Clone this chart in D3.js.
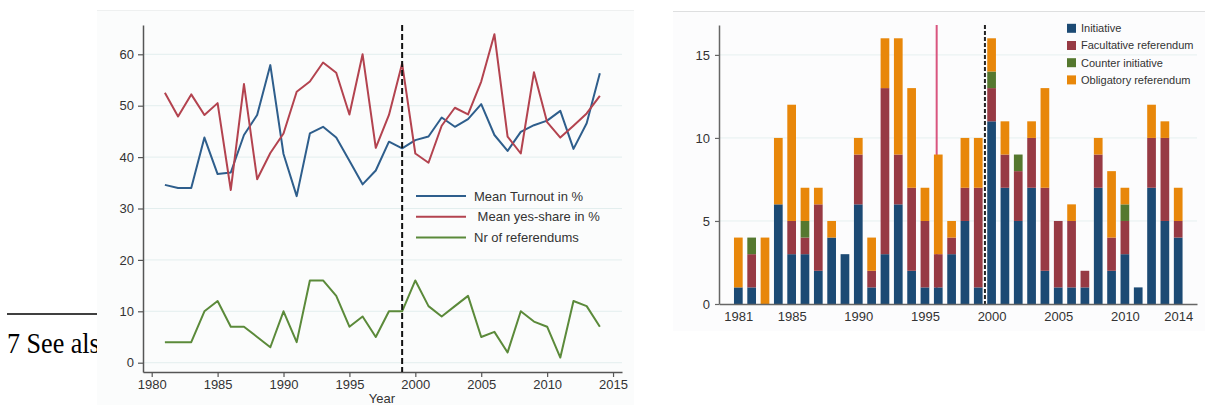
<!DOCTYPE html>
<html><head><meta charset="utf-8">
<script src="https://cdn.jsdelivr.net/npm/d3@7"></script>
<style>
html,body{margin:0;padding:0;background:#fff;overflow:hidden}
svg{display:block}
text{font-family:"Liberation Sans",Arial,sans-serif}
</style></head>
<body>
<svg id="c" width="1205" height="405"></svg>
<script>
// ---------- data ----------
const years = d3.range(1981, 2015);
const turnout = [34.6,34.0,34.0,43.8,36.7,37.0,44.3,48.2,57.9,40.6,32.4,44.6,45.9,43.8,39.3,34.7,37.4,43.0,41.7,43.3,44.0,47.7,45.9,47.4,50.3,44.3,41.2,44.9,46.2,47.1,49.0,41.6,46.6,56.3];
const yesShare = [52.5,47.9,52.2,48.2,50.5,33.6,54.2,35.7,40.8,44.6,52.7,54.7,58.4,56.4,48.3,60.0,41.8,48.2,58.2,40.7,38.9,46.1,49.6,48.3,54.7,63.9,44.0,40.7,56.5,46.8,43.8,46.1,48.5,51.9];
const nrReferendums = [4,4,4,10,12,7,7,5,3,10,4,16,16,13,7,9,5,10,10,16,11,9,11,13,5,6,2,10,8,7,1,12,11,7];
const initiative   = [1,1,0,6,3,3,2,4,3,6,1,3,6,2,1,1,3,5,1,11,7,5,7,2,1,1,1,7,2,3,1,7,5,4];
const facultative  = [0,2,0,0,2,1,4,0,0,3,1,10,3,5,4,2,1,2,6,2,2,3,3,5,4,4,1,2,2,2,0,3,5,1];
const counterInit  = [0,1,0,0,0,1,0,0,0,0,0,0,0,0,0,0,0,0,0,1,0,1,0,0,0,0,0,0,0,1,0,0,0,0];
const obligatory   = [3,0,4,4,7,2,1,1,0,1,2,3,7,6,2,6,1,3,3,2,2,0,1,6,0,1,0,1,4,1,0,2,1,2];
const leftXTicks = [1980,1985,1990,1995,2000,2005,2010,2015];
const leftYTicks = [0,10,20,30,40,50,60];
const rightXTicks = [1981,1985,1990,1995,2000,2005,2010,2014];
const rightYTicks = [0,5,10,15];
const lineLabels = ["Mean Turnout in %"," Mean yes-share in %","Nr of referendums"];
const barLabels = ["Initiative","Facultative referendum","Counter initiative","Obligatory referendum"];
const footnoteText = "7 See also";

const lineColors = ["#2e5e8c","#b3434f","#5b8a3a"];
const barColors = ["#1c4a74","#973a44","#55782f","#e8870a"];
const txt = "#333";

const svg = d3.select("#c");

// ---------- footnote (behind left panel) ----------
svg.append("line").attr("x1",7).attr("x2",110).attr("y1",314).attr("y2",314)
  .attr("stroke","#000").attr("stroke-width",1.4);
svg.append("text").attr("transform","translate(7,353) scale(0.87,1)")
  .style("font-family","'Liberation Serif','Times New Roman',serif")
  .attr("font-size",30).attr("fill","#000").text(footnoteText);

// ---------- panels ----------
svg.append("rect").attr("x",97).attr("y",10).attr("width",537).attr("height",400).attr("fill","#fbfcfc");
svg.append("line").attr("x1",97).attr("x2",634).attr("y1",10.5).attr("y2",10.5).attr("stroke","#eef0f0");
svg.append("rect").attr("x",673).attr("y",11).attr("width",532).attr("height",320).attr("fill","#fcfcfd");
svg.append("line").attr("x1",673).attr("x2",1205).attr("y1",11.5).attr("y2",11.5).attr("stroke","#dedfe0");

// ---------- left chart ----------
const xL = d3.scaleLinear().domain([1979.34, 2015.68]).range([143, 622]);
const yL = d3.scaleLinear().domain([-1.81, 65.7]).range([372, 25]);
const gL = svg.append("g");

gL.selectAll(".gl").data(leftYTicks).join("line")
  .attr("x1",143).attr("x2",622).attr("y1",d=>yL(d)).attr("y2",d=>yL(d))
  .attr("stroke","#e3eeee").attr("stroke-width",1);

const axLY = gL.append("g").attr("transform","translate(143,0)")
  .call(d3.axisLeft(yL).tickValues(leftYTicks).tickSize(5).tickPadding(4).tickSizeOuter(0));
const axLX = gL.append("g").attr("transform","translate(0,372)")
  .call(d3.axisBottom(xL).tickValues(leftXTicks).tickFormat(d3.format("d")).tickSize(5).tickPadding(3).tickSizeOuter(0));
[axLY,axLX].forEach(a=>{
  a.select(".domain").attr("stroke","#555").attr("stroke-width",1.5);
  a.selectAll(".tick line").attr("stroke","#555").attr("stroke-width",1.2);
  a.selectAll("text").attr("font-size",13).attr("fill",txt).style("font-family","'Liberation Sans',Arial,sans-serif");
});
gL.append("text").attr("x",382).attr("y",403).attr("text-anchor","middle")
  .attr("font-size",13).attr("fill",txt).text("Year");

const seriesL = [turnout, yesShare, nrReferendums];
const lineGen = d3.line().x((d,i)=>xL(years[i])).y(d=>yL(d));
seriesL.forEach((s,k)=>{
  gL.append("path").datum(s).attr("d",lineGen).attr("fill","none")
    .attr("stroke",lineColors[k]).attr("stroke-width",2).attr("stroke-linejoin","round");
});

gL.append("line").attr("x1",xL(1999)).attr("x2",xL(1999)).attr("y1",25).attr("y2",372)
  .attr("stroke","#111").attr("stroke-width",2).attr("stroke-dasharray","6,3");

const legL = gL.append("g");
lineLabels.forEach((t,k)=>{
  const y = 196 + k*20.7;
  legL.append("line").attr("x1",416).attr("x2",466).attr("y1",y).attr("y2",y)
    .attr("stroke",lineColors[k]).attr("stroke-width",2);
  legL.append("text").attr("x",474).attr("y",y).attr("dy","0.35em")
    .attr("font-size",13).attr("fill",txt).style("white-space","pre").text(t);
});

// ---------- right chart ----------
const xR = d3.scaleLinear().domain([1979.55, 2015.41]).range([719, 1197]);
const yR = d3.scaleLinear().domain([0, 16.8]).range([304, 25]);
const gR = svg.append("g");

gR.selectAll(".gl").data(rightYTicks.filter(d=>d>0)).join("line")
  .attr("x1",719).attr("x2",1197).attr("y1",d=>yR(d)).attr("y2",d=>yR(d))
  .attr("stroke","#e6f0f0").attr("stroke-width",1);

// pink reference line (behind bars)
gR.append("line").attr("x1",xR(1995.88)).attr("x2",xR(1995.88)).attr("y1",25).attr("y2",304)
  .attr("stroke","#d9557f").attr("stroke-width",2);

const table = years.map((y,i)=>({year:y, a:initiative[i], b:facultative[i], c:counterInit[i], d:obligatory[i]}));
const stack = d3.stack().keys(["a","b","c","d"])(table);
const bw = 8.7;
stack.forEach((layer,k)=>{
  gR.append("g").selectAll("rect").data(layer.filter(d=>d[1]>d[0])).join("rect")
    .attr("x",d=>xR(d.data.year)-bw/2).attr("width",bw)
    .attr("y",d=>yR(d[1])).attr("height",d=>yR(d[0])-yR(d[1]))
    .attr("fill",barColors[k]);
});

gR.append("line").attr("x1",xR(1999.5)).attr("x2",xR(1999.5)).attr("y1",25).attr("y2",304)
  .attr("stroke","#222").attr("stroke-width",2).attr("stroke-dasharray","4,2");

const axRY = gR.append("g").attr("transform","translate(719,0)")
  .call(d3.axisLeft(yR).tickValues(rightYTicks).tickSize(4).tickPadding(5).tickSizeOuter(0));
const axRX = gR.append("g").attr("transform","translate(0,304)")
  .call(d3.axisBottom(xR).tickValues(rightXTicks).tickFormat(d3.format("d")).tickSize(0).tickPadding(8).tickSizeOuter(0));
[axRY,axRX].forEach(a=>{
  a.select(".domain").attr("stroke","#666").attr("stroke-width",1.5);
  a.selectAll(".tick line").attr("stroke","#666").attr("stroke-width",1.2);
  a.selectAll("text").attr("font-size",13).attr("fill",txt).style("font-family","'Liberation Sans',Arial,sans-serif");
});

const legR = gR.append("g");
barLabels.forEach((t,k)=>{
  const y = 28.3 + k*17.2;
  legR.append("rect").attr("x",1067).attr("y",y-4.5).attr("width",9).attr("height",9).attr("fill",barColors[k]);
  legR.append("text").attr("x",1081).attr("y",y).attr("dy","0.35em")
    .attr("font-size",11).attr("fill",txt).text(t);
});
</script>
</body></html>
